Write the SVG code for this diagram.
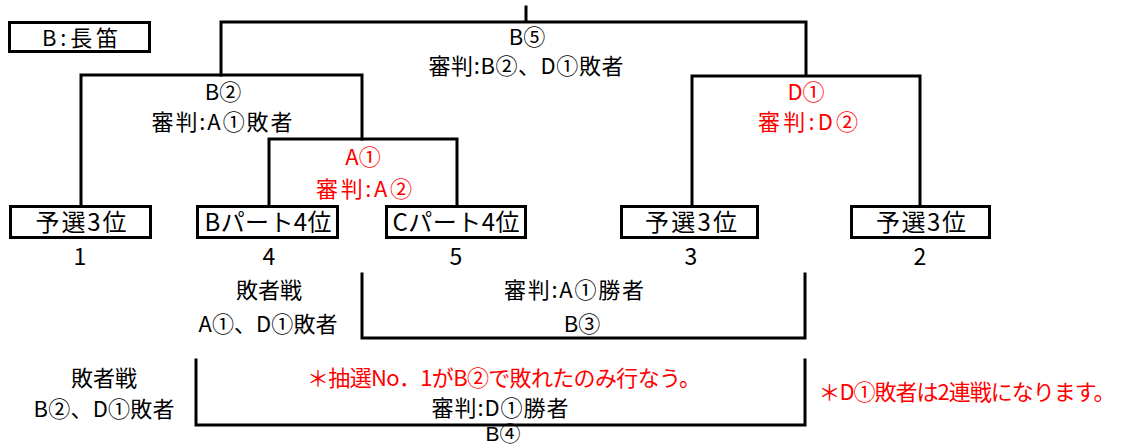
<svg xmlns="http://www.w3.org/2000/svg" width="1126" height="445" viewBox="0 0 1126 445">
<style>
text{font-family:"Noto Sans CJK JP","Noto Sans",sans-serif;font-size:22px;fill:#000;text-anchor:middle}
.r{fill:#ff0000}
.bl{font-size:24px}
.num{font-size:23px}
.edge{font-family:"Liberation Sans","Noto Sans CJK JP",sans-serif;font-size:21px}
.box{fill:#fff;stroke:#000;stroke-width:3}
.ln{fill:none;stroke:#000;stroke-width:3;stroke-linecap:square}
</style>
<rect width="1126" height="445" fill="#fff"/>
<g id="connectors">
<path class="ln" d="M526 7V22M221 75V22H806V75"/>
<path class="ln" d="M81 205V75H362V139"/>
<path class="ln" d="M269 205V139H457V205"/>
<path class="ln" d="M692 205V76H920V205"/>
<path class="ln" d="M362 274V338H805V274"/>
<path class="ln" d="M196 360V425H805V360"/>
</g>
<g id="legend"><rect class="box" x="9.5" y="22.5" width="140" height="29"/><text x="80" y="46" textLength="76">B:長笛</text></g>
<g id="final"><text x="527" y="45">B⑤</text><text x="526" y="74" textLength="195">審判:B②、D①敗者</text></g>
<g id="m-b2"><text x="223" y="100">B②</text><text x="222" y="130" textLength="141">審判:A①敗者</text></g>
<g id="m-d1"><text class="r" x="806" y="100">D①</text><text class="r" x="808" y="130" textLength="100">審判:D②</text></g>
<g id="m-a1"><text class="r" x="363" y="165">A①</text><text class="r" x="364" y="197" textLength="96">審判:A②</text></g>
<g id="n1"><rect class="box" x="10.5" y="206.5" width="140" height="31"/><text class="bl" x="81" y="231" textLength="91">予選3位</text><text class="num" x="80" y="265">1</text></g>
<g id="n4"><rect class="box" x="197.5" y="206.5" width="140" height="31"/><text class="bl" x="268" y="231" textLength="127">Bパート4位</text><text class="num" x="269" y="265">4</text></g>
<g id="n5"><rect class="box" x="386.5" y="206.5" width="139" height="31"/><text class="bl" x="456" y="231" textLength="127">Cパート4位</text><text class="num" x="456" y="265">5</text></g>
<g id="n3"><rect class="box" x="621.5" y="206.5" width="136" height="31"/><text class="bl" x="691" y="231" textLength="92">予選3位</text><text class="num" x="691" y="265">3</text></g>
<g id="n2"><rect class="box" x="851.5" y="206.5" width="138" height="31"/><text class="bl" x="921" y="231" textLength="90">予選3位</text><text class="num" x="920" y="265">2</text></g>
<g id="loser1"><text x="269" y="298" textLength="66">敗者戦</text><text x="268" y="332" textLength="139">A①、D①敗者</text></g>
<g id="m-b3"><text x="574" y="298" textLength="140">審判:A①勝者</text><text x="582" y="332">B③</text></g>
<g id="loser2"><text x="104" y="386" textLength="66">敗者戦</text><text x="104" y="417" textLength="141">B②、D①敗者</text></g>
<g id="m-b4"><text class="r" x="504" y="386" textLength="394">＊抽選No．1がB②で敗れたのみ行なう。</text><text x="500" y="416" textLength="137">審判:D①勝者</text><text class="edge" x="503" y="441">B④</text></g>
<g id="note"><text class="r" x="967" y="400" textLength="297">＊D①敗者は2連戦になります。</text></g>
</svg>
